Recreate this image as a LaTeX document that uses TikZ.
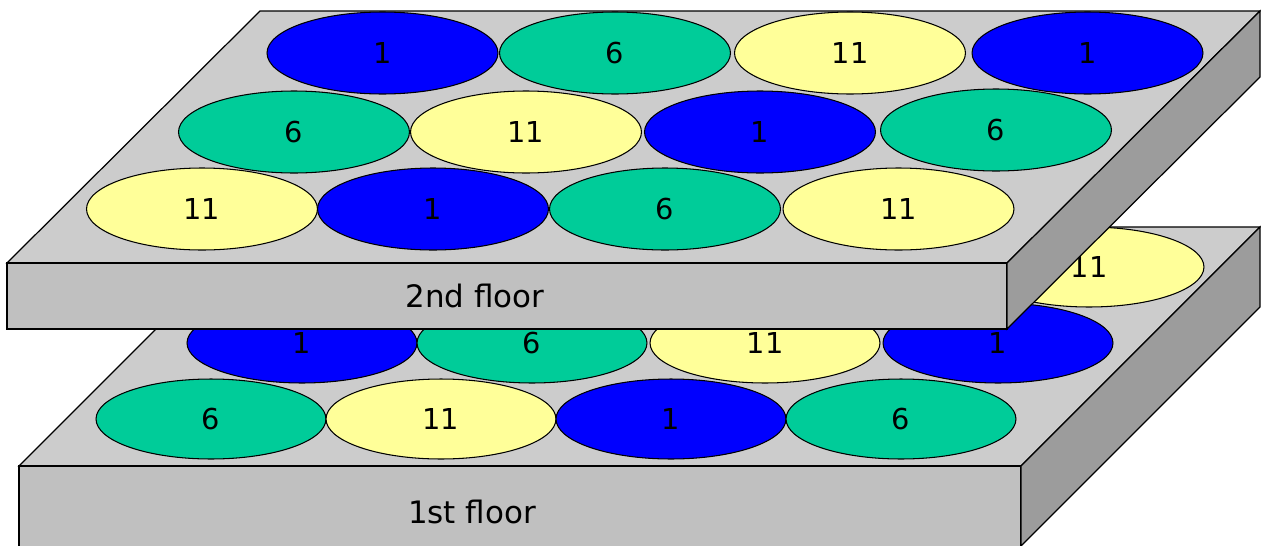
\documentclass[tikz,border=0pt]{standalone}
\usepackage{fontspec}
\setmainfont{DejaVu Sans}
\usepackage{tikz}
\usetikzlibrary{shapes.geometric}
\usepackage{xcolor}

\definecolor{chblue}{HTML}{0000FF}
\definecolor{chteal}{HTML}{00CC99}
\definecolor{chyellow}{HTML}{FFFF99}
\definecolor{slabtop}{HTML}{CCCCCC}
\definecolor{slabfront}{HTML}{C0C0C0}
\definecolor{slabside}{HTML}{9C9C9C}

\begin{document}
\begin{tikzpicture}[
  x=0.02cm,y=-0.02cm,
  slab/.style={draw,line width=0.7pt,line join=miter},
  cell/.style={ellipse,draw,line width=0.6pt,inner sep=0pt,minimum width=4.62cm,minimum height=1.64cm,font=\fontsize{16.4}{18}\selectfont},
  lowcell/.style={cell,minimum width=4.6cm,minimum height=1.6cm},
  chA/.style={fill=chblue},
  chB/.style={fill=chteal},
  chC/.style={fill=chyellow},
  lbl/.style={font=\fontsize{17.6}{20}\selectfont}
]
\useasboundingbox (0,0) rectangle (1261,545);

% 1st floor slab (its lower edge runs off the page)
\draw[slab,fill=slabtop]   (19,466) -- (1021,466) -- (1260,227) -- (258,227) -- cycle;
\draw[slab,fill=slabfront] (19,466) rectangle (1021,550);
\draw[slab,fill=slabside]  (1021,466) -- (1260,227) -- (1260,307) -- (1017,550) -- (1021,550) -- cycle;

% 1st floor cells (back row mostly under the 2nd floor)
\node[lowcell,chC] (l14) at (1089,267) {11};
\node[lowcell,chA] (l21) at (302,343)  {1};
\node[lowcell,chB] (l22) at (532,343)  {6};
\node[lowcell,chC] (l23) at (765,343)  {11};
\node[lowcell,chA] (l24) at (998,343)  {1};
\node[lowcell,chB] (l31) at (211,419)  {6};
\node[lowcell,chC] (l32) at (441,419)  {11};
\node[lowcell,chA] (l33) at (671,419)  {1};
\node[lowcell,chB] (l34) at (901,419)  {6};
\node[lbl] (first) at (472,512) {1st floor};

% 2nd floor slab
\draw[slab,fill=slabtop]   (7,263) -- (1007,263) -- (1260,11) -- (260,11) -- cycle;
\draw[slab,fill=slabfront] (7,263) rectangle (1007,329);
\draw[slab,fill=slabside]  (1007,263) -- (1260,11) -- (1260,77) -- (1007,329) -- cycle;

% 2nd floor cells
\node[cell,chA] (u11) at (382.5,53) {1};
\node[cell,chB] (u12) at (615,53)   {6};
\node[cell,chC] (u13) at (850,53)   {11};
\node[cell,chA] (u14) at (1087.5,53) {1};
\node[cell,chB] (u21) at (294,132)  {6};
\node[cell,chC] (u22) at (526,132)  {11};
\node[cell,chA] (u23) at (760,132)  {1};
\node[cell,chB] (u24) at (996,130)  {6};
\node[cell,chC] (u31) at (202,209)  {11};
\node[cell,chA] (u32) at (433,209)  {1};
\node[cell,chB] (u33) at (665,209)  {6};
\node[cell,chC] (u34) at (898.5,209) {11};
\node[lbl] (second) at (475,296) {2nd floor};

\end{tikzpicture}
\end{document}
